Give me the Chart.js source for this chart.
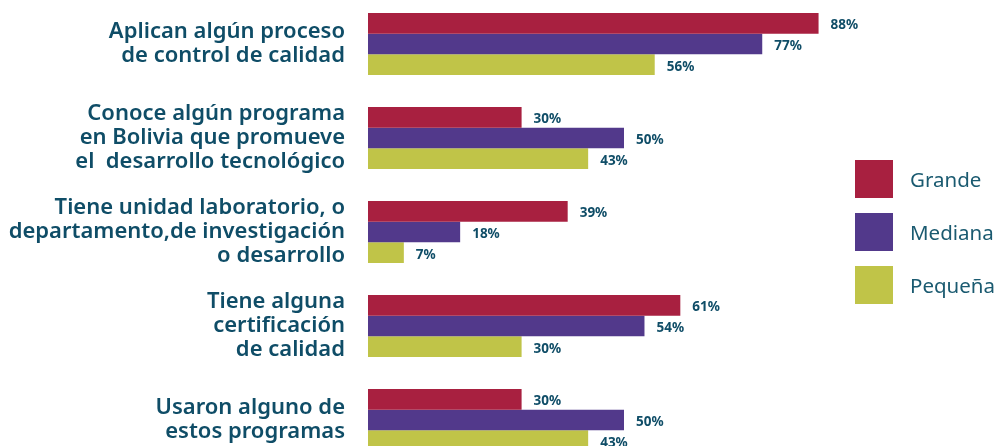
<!DOCTYPE html>
<html>
<head>
<meta charset="utf-8">
<script src="https://cdn.jsdelivr.net/npm/chart.js@4.4.1/dist/chart.umd.min.js"></script>
<style>
  html, body { margin: 0; padding: 0; background: #fff; overflow: hidden; }
  body { width: 1002px; height: 446px; position: relative; }
  #wrap { position: absolute; left: 0; top: -3px; width: 1002px; height: 470px; }
  .leg { position: absolute; left: 855px; font-family: "Noto Sans", sans-serif; font-size: 20.5px; color: #1a5a70; }
  .leg span { display: inline-block; width: 38px; height: 38px; vertical-align: middle; }
  .leg b { font-weight: normal; vertical-align: middle; margin-left: 17px; }
</style>
</head>
<body>
<div id="wrap"><canvas id="chart"></canvas></div>
<div id="legend"></div>
<script>
var categories = [
  ["Aplican algún proceso", "de control de calidad"],
  ["Conoce algún programa", "en Bolivia que promueve", "el  desarrollo tecnológico"],
  ["Tiene unidad laboratorio, o", "departamento,de investigación", "o desarrollo"],
  ["Tiene alguna", "certificación", "de calidad"],
  ["Usaron alguno de", "estos programas"]
];
var seriesNames = ["Grande", "Mediana", "Pequeña"];
var grande = [88, 30, 39, 61, 30];
var mediana = [77, 50, 18, 54, 50];
var pequena = [56, 43, 7, 30, 43];
var colors = ["#a82040", "#52398b", "#c0c448"];
var textColor = "#0f4d67";

// legend
var legendTops = [160, 213, 266];
var legendHtml = "";
for (var i = 0; i < seriesNames.length; i++) {
  legendHtml += '<div class="leg" style="top:' + legendTops[i] + 'px"><span style="background:' + colors[i] + '"></span><b>' + seriesNames[i] + '</b></div>';
}
document.getElementById("legend").innerHTML = legendHtml;

// percent labels at the end of each bar
const barLabels = {
  id: "barLabels",
  afterDatasetsDraw(chart) {
    const ctx = chart.ctx;
    ctx.save();
    ctx.font = "bold 13.5px 'Noto Sans', sans-serif";
    ctx.fillStyle = textColor;
    ctx.textAlign = "left";
    ctx.textBaseline = "middle";
    chart.data.datasets.forEach((ds, di) => {
      chart.getDatasetMeta(di).data.forEach((bar, j) => {
        ctx.fillText(ds.data[j] + "%", bar.x + 12, bar.y + 2);
      });
    });
    ctx.restore();
  }
};

new Chart(document.getElementById("chart"), {
  type: "bar",
  data: {
    labels: categories,
    datasets: [
      { label: seriesNames[0], data: grande, backgroundColor: colors[0] },
      { label: seriesNames[1], data: mediana, backgroundColor: colors[1] },
      { label: seriesNames[2], data: pequena, backgroundColor: colors[2] }
    ]
  },
  options: {
    indexAxis: "y",
    responsive: true,
    maintainAspectRatio: false,
    animation: false,
    categoryPercentage: 0.66,
    barPercentage: 1,
    layout: { padding: { left: 0, right: 122, top: 0, bottom: 0 } },
    plugins: { legend: { display: false }, tooltip: { enabled: false } },
    scales: {
      x: { display: false, min: 0, max: 100 },
      y: {
        grid: { display: false },
        border: { display: false },
        afterFit(scale) {
          scale.width = 368;
          scale.paddingTop = 0;
          scale.paddingBottom = 0;
        },
        ticks: {
          color: textColor,
          padding: 15,
          font: { family: "'Noto Sans', sans-serif", size: 22, weight: "600", lineHeight: "24px" }
        }
      }
    }
  },
  plugins: [barLabels]
});
</script>
</body>
</html>
